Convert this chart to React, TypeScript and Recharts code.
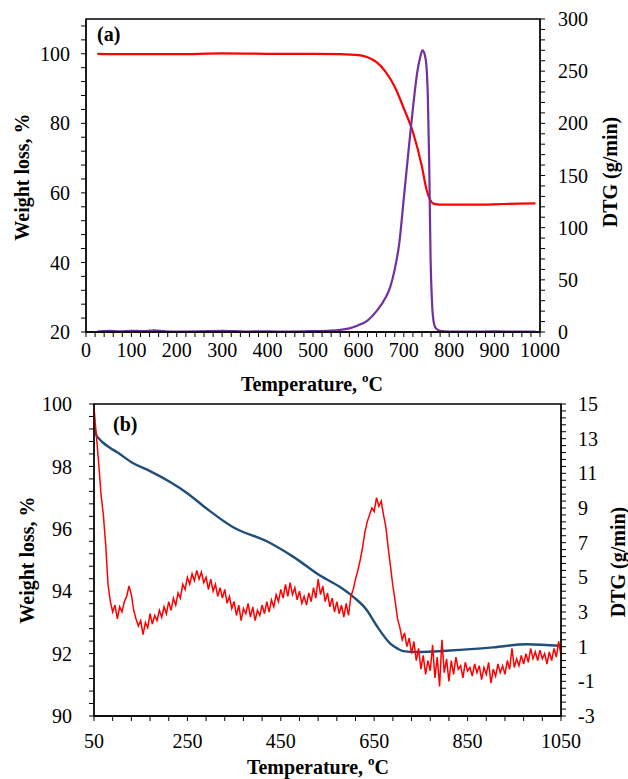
import { LineChart, Line, XAxis, YAxis, ReferenceArea } from 'recharts';

const FONT = 'Liberation Serif';

// (a) weight loss curve, temperature (C) / weight (%)
const wlATemp = [25, 100, 200, 300, 400, 500, 560, 600, 620, 640, 660, 680, 700, 720, 740, 750, 758, 765, 780, 850, 920, 990];
const wlAVal = [100.0, 99.9, 99.9, 100.1, 100.0, 100.0, 99.9, 99.6, 99.0, 97.6, 94.8, 90.5, 84.3, 77.5, 67.5, 61.0, 58.0, 56.9, 56.6, 56.6, 56.8, 57.0];

// (a) DTG curve, temperature (C) / g/min
const dtgATemp = [25, 50, 75, 100, 125, 150, 175, 200, 250, 300, 350, 400, 450, 500, 530, 560, 580, 600, 620, 640, 660, 670, 680, 690, 700, 710, 720, 730, 736, 741, 746, 750, 753, 756, 759, 762, 765, 770, 780, 800, 850, 900, 950, 990];
const dtgAVal = [0.5, 1.0, 0.6, 1.2, 0.8, 1.6, 0.7, 0.4, 0.6, 1.0, 0.5, 0.6, 0.4, 0.8, 1.2, 2.0, 3.5, 6.5, 11, 20, 33, 43, 60, 85, 128, 172, 214, 250, 263, 270, 266, 254, 225, 160, 70, 30, 12, 4, 1.2, 0.5, 0.4, 0.6, 0.4, 0.5];

// (b) weight loss curve
const wlBTemp = [50, 55, 60, 70, 84, 100, 134, 170, 213, 249, 291, 348, 420, 477, 534, 580, 605, 634, 655, 684, 701, 712, 741, 812, 905, 977, 1048];
const wlBVal = [99.3, 99.0, 98.9, 98.75, 98.6, 98.45, 98.1, 97.85, 97.5, 97.15, 96.65, 96.05, 95.6, 95.1, 94.5, 94.1, 93.82, 93.4, 92.9, 92.33, 92.15, 92.08, 92.05, 92.1, 92.2, 92.3, 92.25];

// (b) DTG curve, sampled every 5 C from 50 C
const dtgBStart = 50;
const dtgBStep = 5;
const dtgBVal = [
  14.8, 13.2, 11.6, 9.8, 8.6, 6.9, 4.6, 3.6, 3.0, 3.4,
  2.6, 3.3, 3.0, 3.6, 3.9, 4.5, 4.0, 3.1, 2.6, 2.2,
  2.5, 1.7, 2.4, 2.1, 2.9, 2.3, 2.8, 2.5, 3.1, 2.7,
  3.3, 2.9, 3.6, 3.1, 3.8, 3.4, 4.1, 3.8, 4.6, 4.3,
  5.0, 4.6, 5.2, 4.8, 5.4, 4.9, 5.3, 4.7, 5.0, 4.3,
  4.9, 4.2, 4.6, 3.9, 4.4, 3.8, 4.3, 3.5, 3.9, 3.2,
  3.6, 2.8, 3.4, 2.5, 3.2, 2.9, 3.5, 2.7, 3.3, 2.5,
  3.1, 2.8, 3.4, 2.9, 3.6, 3.0, 3.7, 3.3, 4.0, 3.6,
  4.3, 3.8, 4.6, 3.9, 4.7, 4.0, 4.4, 3.7, 4.2, 3.5,
  3.9, 3.4, 4.1, 3.6, 4.4, 3.8, 4.9, 4.0, 4.5, 3.6,
  4.1, 3.3, 3.8, 3.0, 3.6, 2.9, 3.4, 2.7, 3.5, 2.8,
  3.9, 4.3, 4.9, 5.4, 6.0, 6.7, 7.6, 8.2, 8.6, 9.0,
  8.8, 9.6, 9.1, 9.4, 8.6, 7.9, 6.7, 5.6, 4.5, 3.6,
  2.6, 2.1, 1.4, 1.8, 1.0, 1.5, 0.6, 1.3, 0.2, 0.9,
  -0.3, 0.5, -0.6, 0.2, -0.4, 1.1, -0.8, 0.4, -1.3, 1.4,
  -0.5, 0.3, -1.0, 0.2, -0.6, 0.4, -0.3, -0.1, -0.8, 0.1,
  -0.4, -0.2, -0.7, 0.0, -0.5, -0.1, -0.9, -0.2, -0.6, 0.1,
  -1.1, -0.3, -0.7, 0.0, -0.5, -0.1, -0.6, 0.2, -0.3, 0.9,
  -0.2, 0.3, -0.1, 0.5, 0.0, 0.6, 0.1, 0.9, 0.3, 0.7,
  0.2, 0.8, 0.3, 0.6, 0.0, 0.7, 0.2, 0.9, 0.4, 1.3,
  0.5,
];

// axis ticks
const xTicksA = [0, 100, 200, 300, 400, 500, 600, 700, 800, 900, 1000];
const yLeftTicksA = [20, 40, 60, 80, 100];
const yRightTicksA = [0, 50, 100, 150, 200, 250, 300];
const xTicksB = [50, 250, 450, 650, 850, 1050];
const yLeftTicksB = [90, 92, 94, 96, 98, 100];
const yRightTicksB = [-3, -1, 1, 3, 5, 7, 9, 11, 13, 15];

const pairs = (t: number[], v: number[]) => t.map((x, i) => ({ t: x, v: v[i] }));
const wlA = pairs(wlATemp, wlAVal);
const dtgA = pairs(dtgATemp, dtgAVal);
const wlB = pairs(wlBTemp, wlBVal);
const dtgB = dtgBVal.map((v, i) => ({ t: dtgBStart + i * dtgBStep, v }));

// major ticks plus minor ticks (n subdivisions)
const withMinor = (major: number[], n: number, extraTop = 0) => {
  const out: number[] = [];
  const step = major[1] - major[0];
  for (let i = 0; i < major.length - 1; i++) {
    for (let k = 0; k < n; k++) out.push(Math.round((major[i] + (step * k) / n) * 1000) / 1000);
  }
  const last = major[major.length - 1];
  out.push(last);
  for (let k = 1; k <= extraTop; k++) out.push(Math.round((last + (step * k) / n) * 1000) / 1000);
  return out;
};
const majorFmt = (major: number[]) => (v: number) =>
  major.some((m) => Math.abs(m - v) < 1e-6) ? String(v) : '';

const tickStyle = { fontFamily: FONT, fontSize: 20, fill: '#000' };
const axisProps = {
  axisLine: { stroke: '#000', strokeWidth: 1.3 },
  tickLine: { stroke: '#000', strokeWidth: 1 },
  tickSize: 5,
  interval: 0 as const,
  tick: tickStyle,
};

const Title = ({ x, y, text, rot }: { x: number; y: number; text: React.ReactNode; rot?: boolean }) => (
  <text
    x={x}
    y={y}
    textAnchor="middle"
    dominantBaseline="central"
    transform={rot ? `rotate(-90 ${x} ${y})` : undefined}
    fontFamily={FONT}
    fontSize={20}
    fontWeight={700}
  >
    {text}
  </text>
);

const tempLabel = (
  <>
    Temperature, <tspan dy={-7} fontSize={13}>o</tspan>
    <tspan dy={7}>C</tspan>
  </>
);

export default function App() {
  return (
    <div style={{ position: 'absolute', left: 0, top: 0, width: 628, height: 779, background: '#fff', fontFamily: FONT }}>
      <div style={{ position: 'absolute', left: 0, top: 0 }}>
        <LineChart width={628} height={380} margin={{ top: 19, right: 0, bottom: 0, left: 0 }}>
          <XAxis
            dataKey="t"
            type="number"
            domain={[0, 1000]}
            ticks={withMinor(xTicksA, 5)}
            tickFormatter={majorFmt(xTicksA)}
            height={48}
            tickMargin={6}
            {...axisProps}
          />
          <YAxis
            yAxisId="l"
            dataKey="v"
            type="number"
            domain={[20, 110]}
            ticks={withMinor(yLeftTicksA, 5, 2)}
            tickFormatter={majorFmt(yLeftTicksA)}
            width={86}
            tickMargin={11}
            allowDataOverflow
            {...axisProps}
          />
          <YAxis
            yAxisId="r"
            orientation="right"
            dataKey="v"
            type="number"
            domain={[0, 300]}
            ticks={withMinor(yRightTicksA, 5)}
            tickFormatter={majorFmt(yRightTicksA)}
            width={88}
            tickMargin={13}
            allowDataOverflow
            {...axisProps}
          />
          <ReferenceArea yAxisId="l" x1={0} x2={1000} y1={20} y2={110} fill="none" stroke="#000" strokeWidth={1.3} />
          <Line yAxisId="l" data={wlA} dataKey="v" type="monotone" stroke="#ff0000" strokeWidth={2.2} dot={false} isAnimationActive={false} />
          <Line yAxisId="r" data={dtgA} dataKey="v" type="monotone" stroke="#7030a0" strokeWidth={2.2} dot={false} isAnimationActive={false} />
        </LineChart>
      </div>
      <div style={{ position: 'absolute', left: 0, top: 380 }}>
        <LineChart width={628} height={399} margin={{ top: 24, right: 0, bottom: 0, left: 0 }}>
          <XAxis
            dataKey="t"
            type="number"
            domain={[50, 1050]}
            ticks={withMinor(xTicksB, 5)}
            tickFormatter={majorFmt(xTicksB)}
            height={63}
            tickMargin={13}
            {...axisProps}
          />
          <YAxis
            yAxisId="l"
            dataKey="v"
            type="number"
            domain={[90, 100]}
            ticks={withMinor(yLeftTicksB, 5)}
            tickFormatter={majorFmt(yLeftTicksB)}
            width={94}
            tickMargin={17}
            allowDataOverflow
            {...axisProps}
          />
          <YAxis
            yAxisId="r"
            orientation="right"
            dataKey="v"
            type="number"
            domain={[-3, 15]}
            ticks={withMinor(yRightTicksB, 5)}
            tickFormatter={majorFmt(yRightTicksB)}
            width={67}
            tickMargin={12}
            allowDataOverflow
            {...axisProps}
          />
          <ReferenceArea yAxisId="l" x1={50} x2={1050} y1={90} y2={100} fill="none" stroke="#000" strokeWidth={1.3} />
          <Line yAxisId="l" data={wlB} dataKey="v" type="monotone" stroke="#1f4e79" strokeWidth={2.4} dot={false} isAnimationActive={false} />
          <Line yAxisId="r" data={dtgB} dataKey="v" type="linear" stroke="#ff0000" strokeWidth={1.5} dot={false} isAnimationActive={false} />
        </LineChart>
      </div>
      <svg width={628} height={779} style={{ position: 'absolute', left: 0, top: 0, pointerEvents: 'none' }}>
        <text x={97} y={41} fontFamily={FONT} fontSize={20} fontWeight={700}>(a)</text>
        <text x={113} y={431} fontFamily={FONT} fontSize={20} fontWeight={700}>(b)</text>
        <Title x={22} y={177} text="Weight loss, %" rot />
        <Title x={610} y={172} text="DTG (g/min)" rot />
        <Title x={312} y={384} text={tempLabel} />
        <Title x={27} y={560} text="Weight loss, %" rot />
        <Title x={618} y={562} text="DTG (g/min)" rot />
        <Title x={318} y={767} text={tempLabel} />
      </svg>
    </div>
  );
}
